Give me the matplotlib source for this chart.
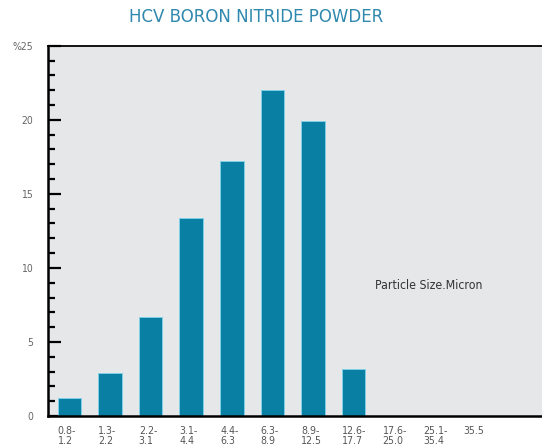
import matplotlib
matplotlib.use("Agg")
import matplotlib.pyplot as plt
from matplotlib.ticker import MultipleLocator

# particle size ranges (micron) and share in %
size_ranges = ["0.8-\n1.2", "1.3-\n2.2", "2.2-\n3.1", "3.1-\n4.4", "4.4-\n6.3", "6.3-\n8.9",
               "8.9-\n12.5", "12.6-\n17.7", "17.6-\n25.0", "25.1-\n35.4", "35.5\n"]
percent = [1.2, 2.9, 6.7, 13.4, 17.2, 22.0, 19.9, 3.2, 0, 0, 0]
y_ticks = [0, 5, 10, 15, 20, 25]
y_tick_labels = ["0", "5", "10", "15", "20", "%25"]

fig = plt.figure(figsize=(5.42, 4.48), dpi=100)
ax = fig.add_axes([0.089, 0.0714, 0.93, 0.8266])
ax.set_facecolor("#e6e7e9")

x = list(range(len(percent)))
bar_w = 0.58
ax.bar(x, percent, width=bar_w, color="#0a7fa4", edgecolor="#7fd0e8", linewidth=0.7, zorder=2)

ax.set_xlim(-0.52, 11.89)
ax.set_ylim(0, 25)

# tick labels start at left edge of each bar
ax.set_xticks([i - bar_w / 2 for i in x])
ax.set_xticklabels(size_ranges, ha="left", va="top", fontsize=7.6, color="#555555",
                   fontstretch="condensed", linespacing=0.9)
ax.tick_params(axis="x", length=0, pad=7.5)

ax.set_yticks(y_ticks)
ax.set_yticklabels(y_tick_labels, fontsize=7.5, color="#666666", fontstretch="condensed")
ax.yaxis.set_minor_locator(MultipleLocator(1))
ax.tick_params(axis="y", which="major", direction="in", length=9, width=1.6, pad=11)
ax.tick_params(axis="y", which="minor", direction="in", length=5, width=1.6)

for side in ["left", "bottom"]:
    ax.spines[side].set_linewidth(1.8)
ax.spines["top"].set_linewidth(1.3)
ax.spines["right"].set_visible(False)

ax.text(7.53, 8.8, "Particle Size.Micron", fontsize=8.8, color="#333333",
        fontstretch="condensed", ha="left", va="center")

fig.text(0.472, 0.962, "HCV BORON NITRIDE POWDER", fontsize=12, color="#2f88ad",
         ha="center", va="center")

fig.savefig("out.png", dpi=100)
